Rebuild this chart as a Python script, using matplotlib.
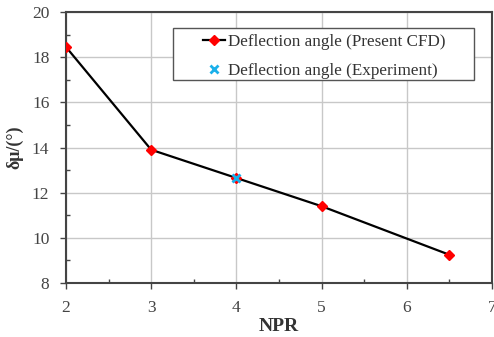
import matplotlib.pyplot as plt
from matplotlib.patches import Rectangle
from matplotlib.ticker import MultipleLocator

plt.rcParams['font.family'] = ['Liberation Serif', 'DejaVu Serif']

# CFD results
npr_cfd = [2, 3, 4, 5, 6.5]
angle_cfd = [18.45, 13.9, 12.65, 11.4, 9.25]

# Experiment
npr_exp = [4]
angle_exp = [12.65]

fig = plt.figure(figsize=(4.94, 3.37), dpi=100)
ax = fig.add_axes([66 / 494, 1 - 283 / 337, (492 - 66) / 494, (283 - 12) / 337])

ax.plot(npr_cfd, angle_cfd, color='black', lw=1.6, marker='D', ms=5,
        mfc='red', mec='red', label='Deflection angle (Present CFD)', zorder=3)
ax.plot(npr_exp, angle_exp, ls='none', marker='x', ms=6, mew=2,
        color='#1ab0ea', label='Deflection angle (Experiment)', zorder=4)

ax.set_xlim(2, 7)
ax.set_ylim(8, 20)
ax.xaxis.set_major_locator(MultipleLocator(1))
ax.xaxis.set_minor_locator(MultipleLocator(0.5))
ax.yaxis.set_major_locator(MultipleLocator(2))
ax.yaxis.set_minor_locator(MultipleLocator(1))
ax.tick_params(which='major', direction='out', length=4, width=1, colors='#444444',
               labelsize=12.5, pad=8)
ax.tick_params(which='minor', direction='in', length=3, width=1, colors='#444444')
ax.grid(True, which='major', color='#c8c8c8', lw=1)
ax.set_axisbelow(True)
for s in ax.spines.values():
    s.set_color('#444444')
    s.set_linewidth(1.5)

ax.set_xlabel('NPR', fontsize=14, fontweight='bold', color='#333333', labelpad=2)
ax.set_ylabel('δμ/(°)', fontsize=13, fontweight='bold', color='#333333', labelpad=6)

# legend box, wider than its contents like the original
ax.add_patch(Rectangle((0.251, 0.749), 0.707, 0.192, transform=ax.transAxes,
                       facecolor='white', edgecolor='#555555', lw=1, zorder=4.5))
leg = ax.legend(loc='upper left', bbox_to_anchor=(0.322, 0.92), fontsize=12.3,
                frameon=False, borderpad=0, borderaxespad=0,
                handlelength=1.3, handletextpad=0.15, labelspacing=0.78)
for t in leg.get_texts():
    t.set_color('#333333')

fig.savefig('out.png', dpi=100)
